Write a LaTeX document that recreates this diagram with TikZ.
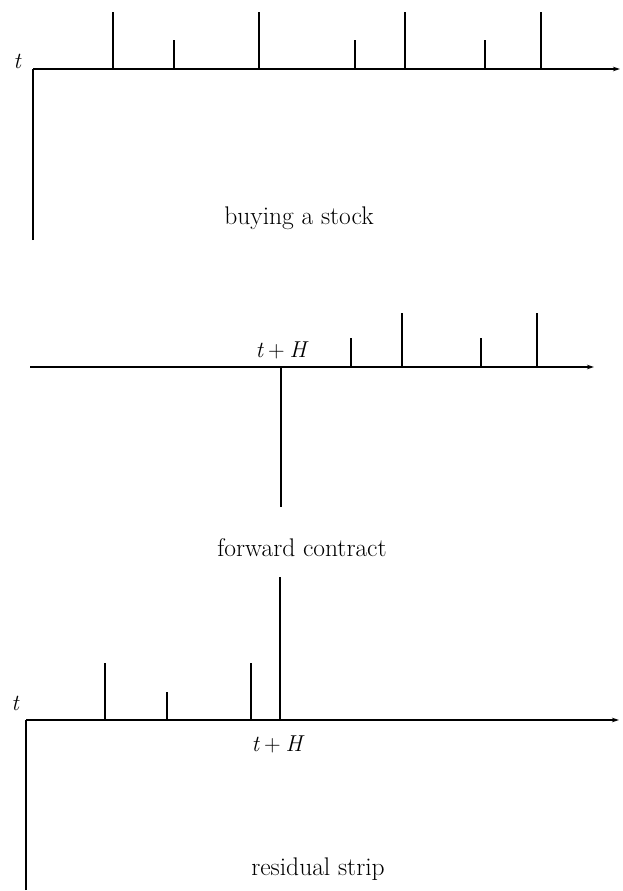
\documentclass[tikz,border=0pt]{standalone}
\usetikzlibrary{arrows.meta}
\newcommand{\tH}{{\itshape t}\hspace{0.22em}+\hspace{0.22em}{\itshape H}}
\begin{document}
\begin{tikzpicture}[x=1pt,y=-1pt,
  axis/.style={line width=1.6pt,-{Stealth[length=7pt,width=4.5pt]}},
  bar/.style={line width=1.6pt},
  lbl/.style={font=\fontsize{23}{27}\selectfont, inner sep=0pt},
  captext/.style={font=\fontsize{25.5}{30}\selectfont, inner sep=0pt}]
\useasboundingbox (0,0) rectangle (622,891);
% ---- panel 1: buying a stock
\coordinate (o1) at (33,69);
\coordinate (e1) at (620,69);
\coordinate (b1) at (33,240);
\draw[bar] (b1) -- (o1);
\draw[axis] (o1) -- (e1);
\foreach \x/\h [count=\i] in {113/57,174/29,259/57,355/29,405/57,485/29,541/57}{
  \coordinate (p1a\i) at (\x,69);
  \coordinate (p1b\i) at (\x,69-\h);
  \draw[bar] (p1a\i) -- (p1b\i);
}
\node[lbl] (t1) at (17,61) {\itshape t};
\node[captext] (cap1) at (299,218) {buying a stock};
% ---- panel 2: forward contract
\coordinate (s2) at (30,367);
\coordinate (e2) at (594,367);
\coordinate (d2a) at (281,367);
\coordinate (d2b) at (281,507);
\draw[axis] (s2) -- (e2);
\draw[bar] (d2a) -- (d2b);
\foreach \x/\h [count=\i] in {351/29,402/54,481/29,537/54}{
  \coordinate (p2a\i) at (\x,367);
  \coordinate (p2b\i) at (\x,367-\h);
  \draw[bar] (p2a\i) -- (p2b\i);
}
\node[lbl] (th2) at (281,350) {\tH};
\node[captext] (cap2) at (302,548) {forward contract};
% ---- panel 3: residual strip
\coordinate (o3) at (26,720);
\coordinate (e3) at (619,720);
\coordinate (b3) at (26,890);
\draw[bar] (b3) -- (o3);
\draw[axis] (o3) -- (e3);
\foreach \x/\h [count=\i] in {105/57,167/28,251/57,280/143}{
  \coordinate (p3a\i) at (\x,720);
  \coordinate (p3b\i) at (\x,720-\h);
  \draw[bar] (p3a\i) -- (p3b\i);
}
\node[lbl] (t3) at (15,703) {\itshape t};
\node[lbl] (th3) at (277,744) {\tH};
\node[captext] (cap3) at (318,869) {residual strip};
\end{tikzpicture}
\end{document}
